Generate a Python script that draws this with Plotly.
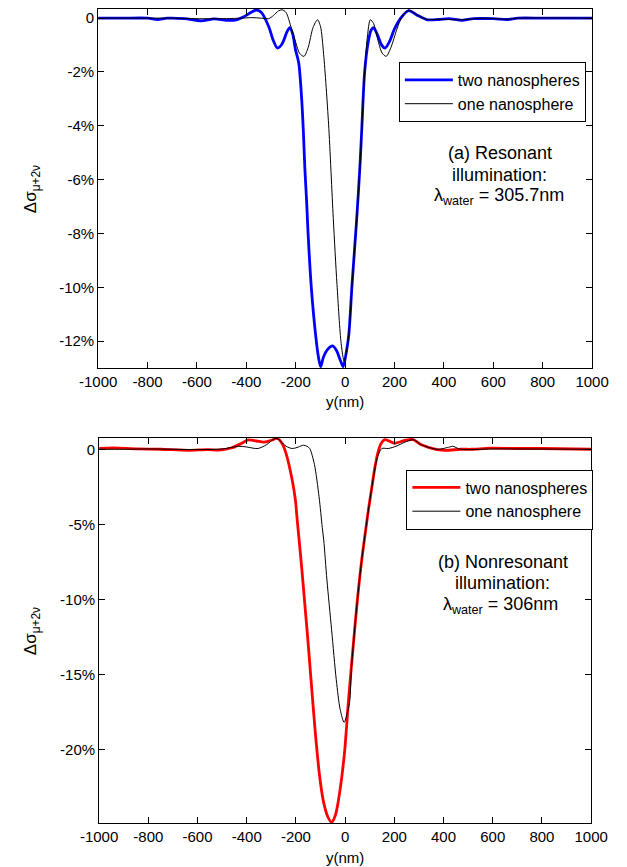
import plotly.graph_objects as go

# ---------------- data (y in nm, values in %) ----------------
TOP_X_TWO = [-1000, -900, -800, -760, -720, -650, -584, -530, -480, -440, -410, -380, -360, -340,
             -310, -290, -274, -255, -235, -224, -212, -201, -188, -176, -169, -163, -156, -150,
             -137, -118, -108, -99, -88, -70, -51, -35, -20, -8, 5, 15, 28, 47, 60, 68, 79, 94,
             105, 115, 130, 148, 162, 178, 200, 225, 257, 290, 333, 380, 420, 473, 520, 600, 656,
             700, 800, 1000]
TOP_Y_TWO = [0, 0, 0, -0.05, 0, -0.02, -0.1, -0.03, -0.08, -0.06, 0.05, 0.22, 0.30, 0.22,
             -0.3, -0.85, -1.11, -0.95, -0.5, -0.35, -0.6, -1.17, -1.66, -3.0, -4.24, -5.6, -6.8, -8.0,
             -10.0, -11.9, -12.6, -12.95, -12.6, -12.3, -12.18, -12.35, -12.7, -12.95, -12.4, -11.75, -9.9, -7.44, -5.5, -4.0, -2.0, -0.86,
             -0.45, -0.35, -0.6, -1.0, -1.11, -0.9, -0.4, 0.0, 0.28, 0.12, -0.06, -0.05, -0.02, -0.08, -0.02, -0.02, -0.05,
             0, 0, 0]

TOP_X_ONE = [-1000, -800, -700, -600, -500, -420, -378, -340, -310, -290, -270, -255, -240, -220,
             -200, -185, -167, -150, -130, -112, -100, -87, -67, -48, -33, -16, -4, 5, 15, 28, 47,
             60, 68, 79, 90, 102, 115, 135, 150, 166, 185, 210, 230, 257, 290, 333, 380, 473, 560,
             656, 700, 1000]
TOP_Y_ONE = [0, 0, 0, -0.02, -0.02, 0, 0.02, 0.0, -0.02, 0.1, 0.27, 0.31, 0.22, -0.3,
             -0.9, -1.3, -1.42, -1.1, -0.35, -0.06, -0.3, -1.35, -3.94, -7.44, -9.9, -12.1, -12.75, -12.4, -11.75, -9.9, -7.44,
             -5.5, -4.0, -2.0, -0.7, -0.06, -0.2, -0.9, -1.3, -1.42, -1.1, -0.4, 0.05, 0.3, 0.12, -0.05, -0.04, -0.06, 0,
             -0.04, 0, 0]

BOT_X_TWO = [-1000, -941, -850, -750, -637, -560, -510, -460, -420, -394, -360, -330, -300, -275,
             -255, -240, -215, -202, -196, -187, -176, -164, -152, -137, -119, -102, -87, -70, -55,
             -40, -29, -4, 15, 35, 50, 65, 80, 95, 108, 120, 132, 145, 162, 200, 245, 277, 310, 373,
             409, 470, 514, 591, 700, 800, 1000]
BOT_Y_TWO = [0.05, 0.09, 0.03, 0.0, -0.07, -0.02, -0.05, 0.1, 0.4, 0.62, 0.55, 0.47, 0.6, 0.72,
             0.35, -0.29, -2.06, -3.4, -4.5, -6.05, -8.0, -10.3, -12.6, -15.7, -19.3, -22.0, -23.56, -24.5, -24.85,
             -24.4, -23.56, -20.46, -16.47, -12.7, -10.0, -7.7, -5.8, -4.0, -2.6, -1.3, -0.3, 0.35, 0.64, 0.4, 0.6, 0.64, 0.3, -0.02,
             -0.07, 0.0, 0.0, 0.07, 0.05, 0.05, 0.0]

BOT_X_ONE = [-1000, -900, -800, -700, -600, -500, -433, -400, -355, -320, -290, -277, -260, -240,
             -215, -190, -170, -155, -144, -125, -106, -93, -87, -74, -55, -36, -20, -4, 8, 18, 26,
             35, 50, 65, 80, 95, 108, 120, 132, 149, 175, 207, 240, 277, 310, 373, 425, 437, 470, 600, 1000]
BOT_Y_ONE = [0, 0.0, 0.02, 0.0, -0.02, 0.02, 0.2, 0.15, 0.05, 0.3, 0.68, 0.71, 0.5, 0.2,
             0.05, 0.15, 0.27, 0.2, 0.05, -1.0, -3.17, -5.2, -6.05, -8.71, -12.03, -15.36, -17.35, -18.2, -17.6, -16.9, -14.5,
             -12.7, -10.0, -7.7, -5.8, -4.0, -2.6, -1.4, -0.5, 0.05, 0.05, 0.2, 0.45, 0.64, 0.3, 0.0, 0.15, 0.2, 0.0, 0.02, 0]

X_TICKS = [-1000, -800, -600, -400, -200, 0, 200, 400, 600, 800, 1000]
X_TICK_TEXT = [str(v) for v in X_TICKS]
TOP_Y_TICKS = [0, -2, -4, -6, -8, -10, -12]
TOP_Y_TICK_TEXT = ["0", "-2%", "-4%", "-6%", "-8%", "-10%", "-12%"]
BOT_Y_TICKS = [0, -5, -10, -15, -20]
BOT_Y_TICK_TEXT = ["0", "-5%", "-10%", "-15%", "-20%"]
TOP_Y_RANGE = [-13.0, 0.34]
BOT_Y_RANGE = [-24.9, 0.75]
X_RANGE = [-1000, 1000]

SERIES_NAMES = ["two nanospheres", "one nanosphere"]

# ---------------- layout geometry ----------------
W, H = 627, 867
FONT = "Liberation Sans, Arial, sans-serif"


def px_x(p):
    return p / W


def px_y(p):
    return 1 - p / H


fig = go.Figure()

fig.add_trace(go.Scatter(x=TOP_X_TWO, y=TOP_Y_TWO, name=SERIES_NAMES[0], mode="lines",
                         line=dict(color="#0000ff", width=2.8, shape="spline", smoothing=0.8),
                         xaxis="x", yaxis="y", legend="legend"))
fig.add_trace(go.Scatter(x=TOP_X_ONE, y=TOP_Y_ONE, name=SERIES_NAMES[1], mode="lines",
                         line=dict(color="#000000", width=1, shape="spline", smoothing=0.8),
                         xaxis="x", yaxis="y", legend="legend"))
fig.add_trace(go.Scatter(x=BOT_X_TWO, y=BOT_Y_TWO, name=SERIES_NAMES[0], mode="lines",
                         line=dict(color="#ff0000", width=2.8, shape="spline", smoothing=0.8),
                         xaxis="x2", yaxis="y2", legend="legend2"))
fig.add_trace(go.Scatter(x=BOT_X_ONE, y=BOT_Y_ONE, name=SERIES_NAMES[1], mode="lines",
                         line=dict(color="#000000", width=1, shape="spline", smoothing=0.8),
                         xaxis="x2", yaxis="y2", legend="legend2"))

axis_common = dict(showline=True, linecolor="black", linewidth=1, mirror="ticks",
                   ticks="inside", ticklen=6, tickcolor="black", tickwidth=1,
                   showgrid=False, zeroline=False,
                   tickfont=dict(family=FONT, size=15, color="black"))

fig.update_layout(
    width=W, height=H,
    margin=dict(l=0, r=0, t=0, b=0),
    paper_bgcolor="white", plot_bgcolor="white",
    font=dict(family=FONT, size=15, color="black"),
    xaxis=dict(domain=[px_x(84), px_x(608)], range=X_RANGE, anchor="y",
               tickvals=X_TICKS, ticktext=X_TICK_TEXT, **axis_common),
    yaxis=dict(domain=[px_y(368), px_y(9)], range=TOP_Y_RANGE, anchor="x",
               tickvals=TOP_Y_TICKS, ticktext=TOP_Y_TICK_TEXT, **axis_common),
    xaxis2=dict(domain=[px_x(85), px_x(607)], range=X_RANGE, anchor="y2",
                tickvals=X_TICKS, ticktext=X_TICK_TEXT, **axis_common),
    yaxis2=dict(domain=[px_y(823), px_y(438)], range=BOT_Y_RANGE, anchor="x2",
                tickvals=BOT_Y_TICKS, ticktext=BOT_Y_TICK_TEXT, **axis_common),
    legend=dict(x=px_x(403), y=px_y(62), xanchor="left", yanchor="top",
                bgcolor="white", bordercolor="black", borderwidth=1,
                font=dict(family=FONT, size=16), itemwidth=48, tracegroupgap=0),
    legend2=dict(x=px_x(411), y=px_y(469.5), xanchor="left", yanchor="top",
                 bgcolor="white", bordercolor="black", borderwidth=1,
                 font=dict(family=FONT, size=16), itemwidth=48, tracegroupgap=0),
    showlegend=True,
)

ann_font = dict(family=FONT, size=18, color="black")
annots = [
    (510, 153, "(a) Resonant", ann_font, 0),
    (510, 175, "illumination:", ann_font, 0),
    (509, 196, "λ<sub>water</sub> = 305.7nm", ann_font, 0),
    (513, 562, "(b) Nonresonant", ann_font, 0),
    (513, 583, "illumination:", ann_font, 0),
    (511, 605, "λ<sub>water</sub> = 306nm", ann_font, 0),
    (346, 401, "y(nm)", dict(family=FONT, size=15, color="black"), 0),
    (346, 857, "y(nm)", dict(family=FONT, size=15, color="black"), 0),
    (14, 189, "Δσ<sub>μ+2ν</sub>", dict(family=FONT, size=17, color="black"), -90),
    (14, 631, "Δσ<sub>μ+2ν</sub>", dict(family=FONT, size=17, color="black"), -90),
]
for x, y, t, f, ang in annots:
    fig.add_annotation(x=px_x(x), y=px_y(y), xref="paper", yref="paper", text=t,
                       showarrow=False, font=f, textangle=ang,
                       xanchor="center", yanchor="middle")

fig.write_html("out.html")
